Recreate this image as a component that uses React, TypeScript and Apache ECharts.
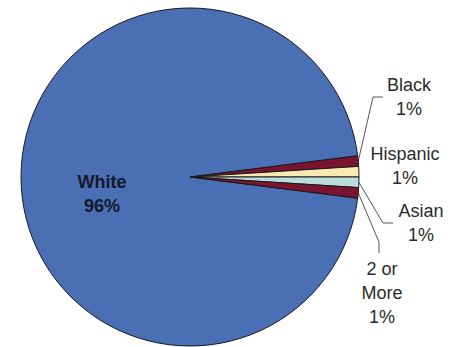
import React, { useEffect, useRef } from "react";
import * as echarts from "echarts";

const categories = ["White", "Black", "Hispanic", "Asian", "2 or\nMore"];
const values = [96, 1, 1, 1, 1];
const percentLabels = ["96%", "1%", "1%", "1%", "1%"];
const colors = ["#4a6fb5", "#7a1430", "#fbe8b2", "#b9dcdc", "#7a1430"];

// label anchor (center of text block) and leader-line bends
const labelPos: Record<number, { x: number; y: number; line?: number[][] }> = {
  0: { x: 102, y: 194 },
  1: { x: 409, y: 97, line: [[373, 97], [383, 97]] },
  2: { x: 405, y: 166 },
  3: { x: 421, y: 223, line: [[383, 223], [393, 223]] },
  4: { x: 382, y: 293, line: [[379, 242], [379, 253]] },
};

export default function App() {
  const ref = useRef<HTMLDivElement>(null);
  useEffect(() => {
    document.body.style.margin = "0";
    const chart = echarts.init(ref.current!, undefined, { renderer: "svg" });
    const data = categories.map((name, i) => ({
      name,
      value: values[i],
      itemStyle: { color: colors[i] },
      label:
        i === 0
          ? {
              position: "inside",
              fontWeight: "bold",
              color: "#15182a",
              fontSize: 18,
            }
          : { position: "outside" },
      labelLine: { show: !!labelPos[i].line },
    }));
    chart.setOption({
      animation: false,
      backgroundColor: "#ffffff",
      series: [
        {
          type: "pie",
          center: [190, 177],
          radius: 169,
          startAngle: -7.2,
          clockwise: true,
          avoidLabelOverlap: false,
          itemStyle: { borderColor: "#1a1a1a", borderWidth: 1 },
          label: {
            show: true,
            fontFamily: "Liberation Sans, Arial, sans-serif",
            fontSize: 18,
            lineHeight: 24,
            color: "#2a2a2a",
            align: "center",
            formatter: (p: any) => `${p.name}\n${percentLabels[p.dataIndex]}`,
          },
          labelLine: {
            show: true,
            length: 10,
            length2: 10,
            lineStyle: { color: "#555555", width: 1 },
          },
          labelLayout: (p: any) => {
            const pos = labelPos[p.dataIndex];
            const out: any = {
              x: pos.x,
              y: pos.y,
              align: "center",
              verticalAlign: "middle",
            };
            if (pos.line) {
              const start =
                p.labelLinePoints && p.labelLinePoints[0]
                  ? p.labelLinePoints[0]
                  : [358, 177];
              out.labelLinePoints = [start, pos.line[0], pos.line[1]];
            }
            return out;
          },
          data,
        },
      ],
    });
    return () => chart.dispose();
  }, []);
  return <div ref={ref} style={{ width: 459, height: 347 }} />;
}
